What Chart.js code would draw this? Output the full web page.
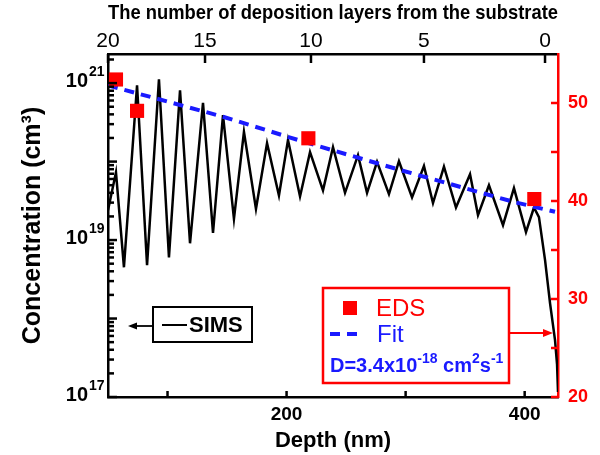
<!DOCTYPE html>
<html><head><meta charset="utf-8">
<script src="https://cdn.jsdelivr.net/npm/chart.js@4/dist/chart.umd.min.js"></script>
<style>html,body{margin:0;padding:0;background:#fff}canvas{display:block}</style>
</head><body>
<canvas id="c" width="600" height="455"></canvas>
<script>
// ---- data ----
const depthNm = [50.0, 56.7, 63.4, 74.4, 82.8, 92.8, 101.2, 110.5, 118.9, 129.8, 138.2, 146.6, 155.8, 164.2, 174.3, 183.6, 193.6, 201.2, 211.3, 219.7, 230.6, 239.0, 249.1, 260.0, 267.6, 276.0, 286.0, 294.4, 305.4, 315.4, 323.0, 332.2, 342.3, 354.1, 360.8, 370.0, 381.8, 391.0, 401.1, 407.8, 412.0, 417.1, 421.3, 425.5, 427.2, 428.0];
const simsConc = [2.4e19, 7.3e19, 4.5e18, 9.4e20, 4.8e18, 1.12e21, 6.0e18, 8.1e20, 9.1e18, 5.6e20, 1.23e19, 3.9e20, 1.86e19, 2.4e20, 2.5e19, 1.72e20, 3.7e19, 1.88e20, 3.6e19, 1.32e20, 4.3e19, 1.53e20, 4.0e19, 1.21e20, 4.0e19, 9.9e19, 3.85e19, 1.01e20, 3.5e19, 8.8e19, 2.96e19, 8.6e19, 2.6e19, 6.9e19, 2.08e19, 5.0e19, 1.55e19, 4.6e19, 1.26e19, 2.6e19, 1.96e19, 5.6e18, 1.57e18, 5.3e17, 2.6e17, 1.16e17];
const edsDepthNm = [56.7, 74.4, 218.3, 408.1];
const edsValue = [52.4, 49.2, 46.4, 40.2];
const fitDepthNm = [50, 146.6, 218.3, 294.4, 391.0, 425.5];
const fitValue = [51.8, 48.6, 45.9, 43.2, 39.9, 38.9];
const depthTicks = [100, 200, 300, 400];
const depthTickLabels = ['', '200', '', '400'];
const layerTickDepths = [50, 131.5, 220.5, 315.4, 417.1];
const layerTickLabels = ['20', '15', '10', '5', '0'];
const concExponents = [17, 18, 19, 20, 21];
const concLabelExponents = ['17', '', '19', '', '21'];
const rightTicks = [20, 25, 30, 35, 40, 45, 50];
const rightTickLabels = ['20', '', '30', '', '40', '', '50'];

const FONT = '"Liberation Sans", Arial, sans-serif';
const RED = '#ff0000';
const BLUE = '#1a1aff';
const CONC_MIN = 1e17, CONC_MAX = 2.35e21;

const logTickValues = [];
concExponents.forEach(e => {
  for (let k = 1; k <= 9; k++) {
    const v = k * Math.pow(10, e);
    if (v <= CONC_MAX) logTickValues.push({v, major: k === 1});
  }
});

const decorPlugin = {
  id: 'decor',
  afterDraw(chart) {
    const {ctx, chartArea: a, scales} = chart;
    ctx.save();
    ctx.lineCap = 'butt';
    const seg = (x1, y1, x2, y2) => { ctx.beginPath(); ctx.moveTo(x1, y1); ctx.lineTo(x2, y2); ctx.stroke(); };
    // inward tick marks
    ctx.strokeStyle = '#000000'; ctx.lineWidth = 2.5;
    depthTicks.forEach(v => { const p = scales.x.getPixelForValue(v); seg(p, a.bottom, p, a.bottom - 6); });
    layerTickDepths.forEach(v => { const p = scales.x2.getPixelForValue(v); seg(p, a.top, p, a.top + 9); });
    logTickValues.forEach(t => {
      const p = scales.y.getPixelForValue(t.v);
      seg(a.left, p, a.left + (t.major ? 9 : 6), p);
    });
    ctx.strokeStyle = RED;
    rightTicks.forEach(v => { const p = scales.y2.getPixelForValue(v); seg(a.right, p, a.right - 7, p); });
    // left log labels 10^n
    ctx.fillStyle = '#000';
    concExponents.forEach((e, i) => {
      const lab = concLabelExponents[i];
      if (!lab) return;
      const p = scales.y.getPixelForValue(Math.pow(10, e));
      ctx.font = 'bold 20px ' + FONT; ctx.textAlign = 'right'; ctx.textBaseline = 'middle';
      ctx.fillText('10', a.left - 20, p - 2);
      ctx.font = 'bold 14px ' + FONT; ctx.textAlign = 'left';
      ctx.fillText(lab, a.left - 19, p - 11);
    });

    // SIMS legend box with arrow to left axis
    const sx = a.left + 45, sy = a.top + 253;
    ctx.strokeStyle = '#000'; ctx.lineWidth = 2;
    ctx.strokeRect(sx, sy, 99, 35);
    seg(sx + 9, sy + 18, sx + 34, sy + 18);
    ctx.font = 'bold 22px ' + FONT; ctx.textAlign = 'left'; ctx.textBaseline = 'middle';
    ctx.fillText('SIMS', sx + 36, sy + 19);
    ctx.lineWidth = 1.8;
    seg(sx, sy + 19, a.left + 26, sy + 19);
    ctx.beginPath(); ctx.moveTo(a.left + 20, sy + 19); ctx.lineTo(a.left + 29, sy + 15.5); ctx.lineTo(a.left + 29, sy + 22.5); ctx.closePath(); ctx.fill();

    // EDS / Fit legend box with arrow to right axis
    const bx = a.left + 215, by = a.top + 234, bw = 186, bh = 95;
    ctx.strokeStyle = RED; ctx.lineWidth = 2.5;
    ctx.strokeRect(bx, by, bw, bh);
    ctx.lineWidth = 2;
    seg(bx + bw, by + 45, a.right - 12, by + 45);
    ctx.fillStyle = RED;
    ctx.beginPath(); ctx.moveTo(a.right - 5, by + 45); ctx.lineTo(a.right - 15, by + 41); ctx.lineTo(a.right - 15, by + 49); ctx.closePath(); ctx.fill();
    ctx.fillRect(bx + 20, by + 13, 14, 14);
    ctx.font = '24px ' + FONT; ctx.textBaseline = 'middle';
    ctx.fillText('EDS', bx + 53, by + 21);
    ctx.strokeStyle = BLUE; ctx.lineWidth = 4;
    seg(bx + 7, by + 46, bx + 17, by + 46);
    seg(bx + 24, by + 46, bx + 34, by + 46);
    ctx.fillStyle = BLUE;
    ctx.fillText('Fit', bx + 54, by + 47);
    // D=3.4x10^-18 cm^2 s^-1
    ctx.textBaseline = 'alphabetic';
    let x = bx + 7; const base = by + 84;
    const part = (txt, size, dy) => { ctx.font = 'bold ' + size + 'px ' + FONT; ctx.fillText(txt, x, base + dy); x += ctx.measureText(txt).width; };
    part('D=3.4x10', 20, 0); part('-18', 14, -9); part(' cm', 20, 0); part('2', 14, -9); part('s', 20, 0); part('-1', 14, -9);
    ctx.restore();
  }
};

const chart = new Chart(document.getElementById('c'), {
  type: 'line',
  data: {
    datasets: [
      {
        label: 'EDS', type: 'scatter', yAxisID: 'y2', xAxisID: 'x', order: 0,
        data: edsDepthNm.map((d, i) => ({x: d, y: edsValue[i]})),
        pointStyle: 'rect', pointRadius: 10, backgroundColor: RED, borderColor: RED, borderWidth: 0, showLine: false
      },
      {
        label: 'Fit', yAxisID: 'y2', xAxisID: 'x', order: 1,
        data: fitDepthNm.map((d, i) => ({x: d, y: fitValue[i]})),
        borderColor: BLUE, borderWidth: 4, borderDash: [10, 7], pointRadius: 0, tension: 0, fill: false
      },
      {
        label: 'SIMS', yAxisID: 'y', xAxisID: 'x', order: 2,
        data: depthNm.map((d, i) => ({x: d, y: simsConc[i]})),
        borderColor: '#000', borderWidth: 2.5, pointRadius: 0, tension: 0, fill: false
      }
    ]
  },
  options: {
    responsive: false, animation: false,
    layout: {padding: 0},
    plugins: {legend: {display: false}, tooltip: {enabled: false}},
    scales: {
      x: {
        type: 'linear', position: 'bottom', min: 50, max: 428,
        afterBuildTicks: s => { s.ticks = depthTicks.map(v => ({value: v})); },
        afterFit: s => { s.height = 58; },
        grid: {display: false, drawTicks: false},
        border: {display: true, color: '#000', width: 2.5},
        ticks: {autoSkip: false, maxRotation: 0, padding: 6, color: '#000', font: {family: FONT, size: 19, weight: 'bold'}, callback: (v, i) => depthTickLabels[i]},
        title: {display: true, text: 'Depth (nm)', color: '#000', font: {family: FONT, size: 22, weight: 'bold'}, padding: {top: 0, bottom: 1}}
      },
      x2: {
        type: 'linear', position: 'top', min: 50, max: 428,
        afterBuildTicks: s => { s.ticks = layerTickDepths.map(v => ({value: v})); },
        afterFit: s => { s.height = 54; },
        grid: {display: false, drawTicks: false},
        border: {display: true, color: '#000', width: 2.5},
        ticks: {autoSkip: false, maxRotation: 0, padding: 0, color: '#000', font: {family: FONT, size: 21}, callback: (v, i) => layerTickLabels[i]},
        title: {display: true, text: 'The number of deposition layers from the substrate', color: '#000', font: {family: FONT, size: 21, weight: 'bold'}, padding: {top: 1, bottom: 0}}
      },
      y: {
        type: 'logarithmic', position: 'left', min: CONC_MIN, max: CONC_MAX,
        afterFit: s => { s.width = 108; },
        grid: {display: false, drawTicks: false},
        border: {display: true, color: '#000', width: 2.5},
        ticks: {display: false},
        title: {display: true, text: 'Concentration (cm³)', color: '#000', font: {family: FONT, size: 25, weight: 'bold'}, padding: {top: 18, bottom: 0}}
      },
      y2: {
        type: 'linear', position: 'right', min: 20, max: 55,
        afterBuildTicks: s => { s.ticks = rightTicks.map(v => ({value: v})); },
        afterFit: s => { s.width = 42; },
        grid: {display: false, drawTicks: false},
        border: {display: true, color: RED, width: 2.5},
        ticks: {autoSkip: false, padding: 10, color: RED, font: {family: FONT, size: 18, weight: 'bold'}, callback: (v, i) => rightTickLabels[i]}
      }
    }
  },
  plugins: [decorPlugin]
});
</script>
</body></html>
